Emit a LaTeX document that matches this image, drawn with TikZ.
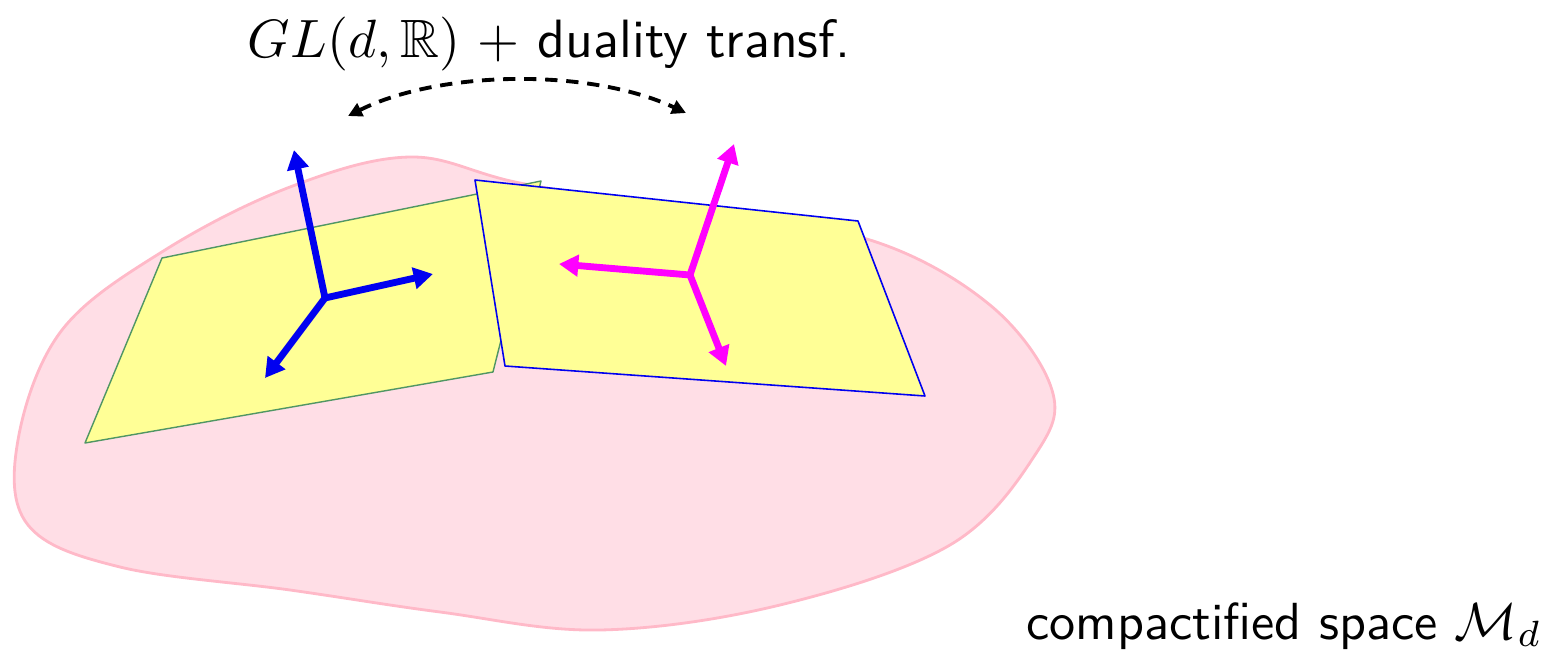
\documentclass[tikz,border=0pt]{standalone}
\usepackage{amssymb}
\usetikzlibrary{arrows.meta}
\definecolor{blobfill}{RGB}{255,222,230}
\definecolor{blobline}{RGB}{255,185,200}
\definecolor{patchfill}{RGB}{255,255,150}
\definecolor{patchgreen}{RGB}{80,150,100}
\definecolor{vecblue}{RGB}{0,0,240}
\definecolor{vecmag}{RGB}{255,0,255}
\tikzset{
  blob/.style={draw=blobline, line width=1.6pt, fill=blobfill},
  patchA/.style={draw=patchgreen, line width=0.8pt, fill=patchfill, line join=round},
  patchB/.style={draw=vecblue, line width=0.9pt, fill=patchfill, line join=round},
  bvec/.style={draw=vecblue, line width=3.9pt, -{Triangle[length=11pt,width=12pt]}},
  mvec/.style={draw=vecmag, line width=3.9pt, -{Triangle[length=11pt,width=12pt]}},
  dualarrow/.style={draw=black, line width=2.2pt, dash pattern=on 7pt off 5pt, {Triangle[length=8pt,width=8pt]}-{Triangle[length=8pt,width=8pt]}},
  lbl/.style={inner sep=0pt, font=\sffamily}
}
\begin{document}
\begin{tikzpicture}[x=0.02cm, y=-0.02cm]
\useasboundingbox (0,0) rectangle (1556,656);
% blob
\draw[blob] plot[smooth cycle, tension=0.6] coordinates {
 (165,250) (290,187) (410,157) (520,183) (700,214) (870,240) (990,305)
 (1052,390) (1035,455) (950,545) (780,605) (600,630) (440,612) (290,590)
 (120,567) (28,525) (18,440) (62,330)};
% patch A
\coordinate (a1) at (162,258);
\coordinate (a2) at (541,181);
\coordinate (a3) at (493,372);
\coordinate (a4) at (85,443);
\draw[patchA] (a1) -- (a2) -- (a3) -- (a4) -- cycle;
% blue frame
\coordinate (bo) at (325,298);
\coordinate (bu) at (294,150);
\coordinate (br) at (433,274);
\coordinate (bd) at (265,378);
\draw[bvec] (bo) -- (bu);
\draw[bvec] (bo) -- (br);
\draw[bvec] (bo) -- (bd);
% patch B
\coordinate (b1) at (475,180);
\coordinate (b2) at (858,221);
\coordinate (b3) at (925,396);
\coordinate (b4) at (505,366);
\draw[patchB] (b1) -- (b2) -- (b3) -- (b4) -- cycle;
% magenta frame
\coordinate (mo) at (690,275);
\coordinate (mu) at (734,144);
\coordinate (ml) at (559,264);
\coordinate (md) at (726,366);
\draw[mvec] (mo) -- (mu);
\draw[mvec] (mo) -- (ml);
\draw[mvec] (mo) -- (md);
% dashed duality arrow
\coordinate (dl) at (348,116);
\coordinate (dr) at (686,113);
\draw[dualarrow] (dl) .. controls (440,70) and (590,68) .. (dr);
% labels
\node[lbl, anchor=base, scale=3.07] (title) at (549,57) {$GL(d,\mathbb{R})$ $+$ duality transf.};
\node[lbl, anchor=base east, scale=2.97] (space) at (1543,639) {compactified space $\mathcal{M}_d$};
\end{tikzpicture}
\end{document}
